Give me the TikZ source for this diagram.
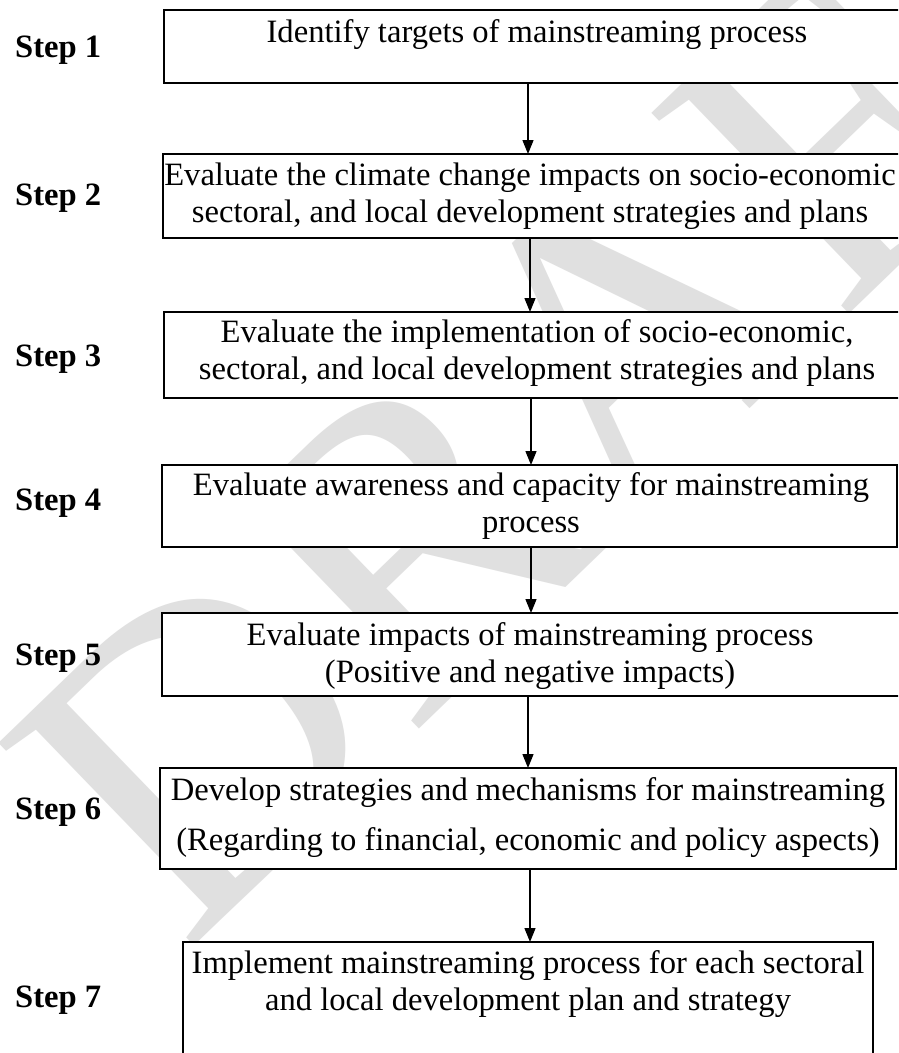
\documentclass[tikz,border=0pt]{standalone}
\usepackage{fontspec}
\setmainfont{Liberation Serif}
\usetikzlibrary{arrows.meta}
\begin{document}
\begin{tikzpicture}[x=1pt,y=-1pt,
  flowbox/.style={draw=black, line width=1.8pt, fill=white, inner sep=0pt, outer sep=0pt, anchor=north west},
  flowtext/.style={font=\fontsize{32.6}{37}\selectfont, align=center, inner sep=0pt, anchor=base},
  steplbl/.style={font=\fontsize{32.6}{37}\selectfont\bfseries, inner sep=0pt, anchor=base west},
  flowarrow/.style={line width=1.4pt, -{Triangle[length=14pt,width=11pt]}},
  watermark/.style={font=\fontsize{430}{430}\selectfont, text=black!12, inner sep=0pt, anchor=base west, rotate=44}
]
\useasboundingbox (0,0) rectangle (898,1053);
\clip (0,0) rectangle (898,1053);
\fill[white] (0,0) rectangle (898,1053);

% watermark
\node[watermark] (wm) at (185,955) {DRAFT};

% boxes
\node[flowbox, minimum width=746pt, minimum height=73pt] (b1) at (164,10) {};
\node[flowbox, minimum width=747pt, minimum height=84pt] (b2) at (163,154) {};
\node[flowbox, minimum width=746pt, minimum height=86pt] (b3) at (164,312) {};
\node[flowbox, minimum width=735pt, minimum height=82pt] (b4) at (162,465) {};
\node[flowbox, minimum width=748pt, minimum height=83pt] (b5) at (162,613) {};
\node[flowbox, minimum width=736pt, minimum height=101pt] (b6) at (160,768) {};
\node[flowbox, minimum width=690pt, minimum height=130pt] (b7) at (183,942) {};

% box texts (anchor = baseline of the last line)
\node[flowtext] (t1) at (537,42) {Identify targets of mainstreaming process};
\node[flowtext] (t2) at (530,222) {Evaluate the climate change impacts on socio-economic\\sectoral, and local development strategies and plans};
\node[flowtext] (t3) at (537,379) {Evaluate the implementation of socio-economic,\\sectoral, and local development strategies and plans};
\node[flowtext] (t4) at (531,532) {Evaluate awareness and capacity for mainstreaming\\process};
\node[flowtext] (t5) at (530,682) {Evaluate impacts of mainstreaming process\\(Positive and negative impacts)};
\node[flowtext] (t6) at (528,850) {Develop strategies and mechanisms for mainstreaming\\[13pt](Regarding to financial, economic and policy aspects)};
\node[flowtext] (t7) at (528,1010) {Implement mainstreaming process for each sectoral\\and local development plan and strategy};

% step labels
\node[steplbl] (s1) at (15,57) {Step 1};
\node[steplbl] (s2) at (15,205) {Step 2};
\node[steplbl] (s3) at (15,366) {Step 3};
\node[steplbl] (s4) at (15,510) {Step 4};
\node[steplbl] (s5) at (15,665) {Step 5};
\node[steplbl] (s6) at (15,819) {Step 6};
\node[steplbl] (s7) at (15,1007) {Step 7};

% arrow columns
\coordinate (x1) at (528,0);
\coordinate (x2) at (530,0);
\coordinate (x3) at (531,0);
\coordinate (x4) at (531,0);
\coordinate (x5) at (528,0);
\coordinate (x6) at (530,0);

\draw[flowarrow] (b1.south -| x1) -- (b2.north -| x1);
\draw[flowarrow] (b2.south -| x2) -- (b3.north -| x2);
\draw[flowarrow] (b3.south -| x3) -- (b4.north -| x3);
\draw[flowarrow] (b4.south -| x4) -- (b5.north -| x4);
\draw[flowarrow] (b5.south -| x5) -- (b6.north -| x5);
\draw[flowarrow] (b6.south -| x6) -- (b7.north -| x6);
\end{tikzpicture}
\end{document}
